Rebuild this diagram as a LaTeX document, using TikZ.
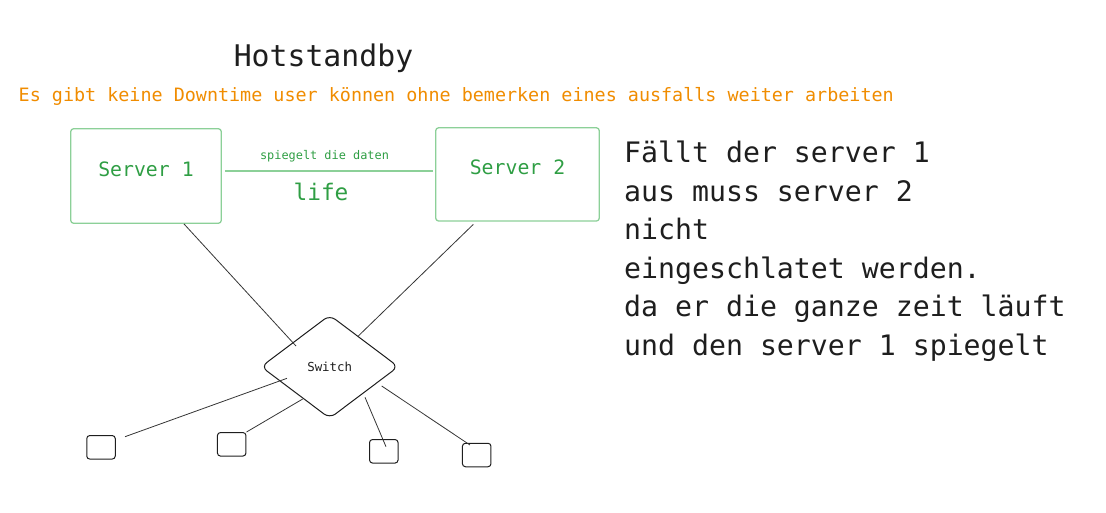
\documentclass[tikz,border=0pt]{standalone}
\usepackage{fontspec}
\setmonofont{DejaVu Sans Mono}
\usetikzlibrary{shapes.geometric}
\definecolor{srvgreen}{RGB}{47,158,68}
\definecolor{srvline}{RGB}{140,208,152}
\definecolor{notice}{RGB}{240,140,0}
\definecolor{ink}{RGB}{30,30,30}

\begin{document}
\begin{tikzpicture}[x=1pt,y=-1pt,
    server/.style={draw=srvline, line width=1.3pt, rounded corners=3pt, text=srvgreen,
      font=\ttfamily\fontsize{19.8}{24}\selectfont, inner sep=0pt, text height=15pt, text depth=15pt},
    client/.style={draw=ink, line width=1pt, rounded corners=3pt, inner sep=0pt,
      minimum width=28.5pt, minimum height=23.5pt},
    wire/.style={draw=ink!90, line width=0.8pt}]
      \useasboundingbox (0,0) rectangle (1106,512);
      \node[font=\ttfamily\fontsize{29.8}{34}\selectfont, text=ink, anchor=base] (title) at (323.5,66) {Hotstandby};
      \node[font=\ttfamily\fontsize{18.4}{22}\selectfont, text=notice, anchor=base west, inner sep=0pt] (note) at (18.5,101.7)
        {Es gibt keine Downtime user können ohne bemerken eines ausfalls weiter arbeiten};
      \node[server, minimum width=150.6pt, minimum height=94.6pt] (s1) at (146,176) {Server 1};
      \node[server, minimum width=163.6pt, minimum height=93.3pt] (s2) at (517.5,174.4) {Server 2};
      \draw[draw=srvline, line width=1.2pt] ([xshift=3pt,yshift=5pt]s1.east) -- ([xshift=-2pt,yshift=3.4pt]s2.west);
      \node[font=\ttfamily\fontsize{11.9}{14}\selectfont, text=srvgreen, anchor=base] (mirror) at (324.5,159.6) {spiegelt die daten};
      \node[font=\ttfamily\fontsize{22.8}{26}\selectfont, text=srvgreen, anchor=base] (life) at (321,200.8) {life};
      \node[diamond, draw=ink, line width=1pt, rounded corners=7pt, inner sep=0pt, minimum width=137.5pt,
        minimum height=103.5pt, font=\ttfamily\fontsize{12.4}{14}\selectfont, text=ink] (sw) at (329.7,366.7) {Switch};
      \draw[wire] ([xshift=38pt]s1.south) -- ([xshift=-33.7pt,yshift=20.7pt]sw.center);
      \draw[wire] ([xshift=-44.2pt,yshift=-2.7pt]s2.south) -- ([xshift=28.6pt,yshift=30.7pt]sw.center);
      \node[client] (c1) at (101,447.3) {};
      \node[client] (c2) at (231.7,444.3) {};
      \node[client] (c3) at (383.8,451.3) {};
      \node[client] (c4) at (476.7,455) {};
      \draw[wire] ([xshift=-42.7pt,yshift=-11.6pt]sw.center) -- ([xshift=24pt,yshift=10.6pt]c1.center);
      \draw[wire] ([xshift=-27pt,yshift=-32.3pt]sw.center) -- (c2.north east);
      \draw[wire] ([xshift=35.3pt,yshift=-30.6pt]sw.center) -- ([xshift=2.2pt,yshift=4.6pt]c3.center);
      \draw[wire] ([xshift=52pt,yshift=-19.3pt]sw.center) -- ([xshift=-6.7pt,yshift=10pt]c4.center);
      \node[font=\ttfamily\fontsize{28.2}{38.6}\selectfont, text=ink, align=left, anchor=north west, inner sep=0pt] (story) at (624,140.7)
        {Fällt der server 1\\aus muss server 2\\nicht\\eingeschlatet werden.\\da er die ganze zeit läuft\\und den server 1 spiegelt};
\end{tikzpicture}
\end{document}
